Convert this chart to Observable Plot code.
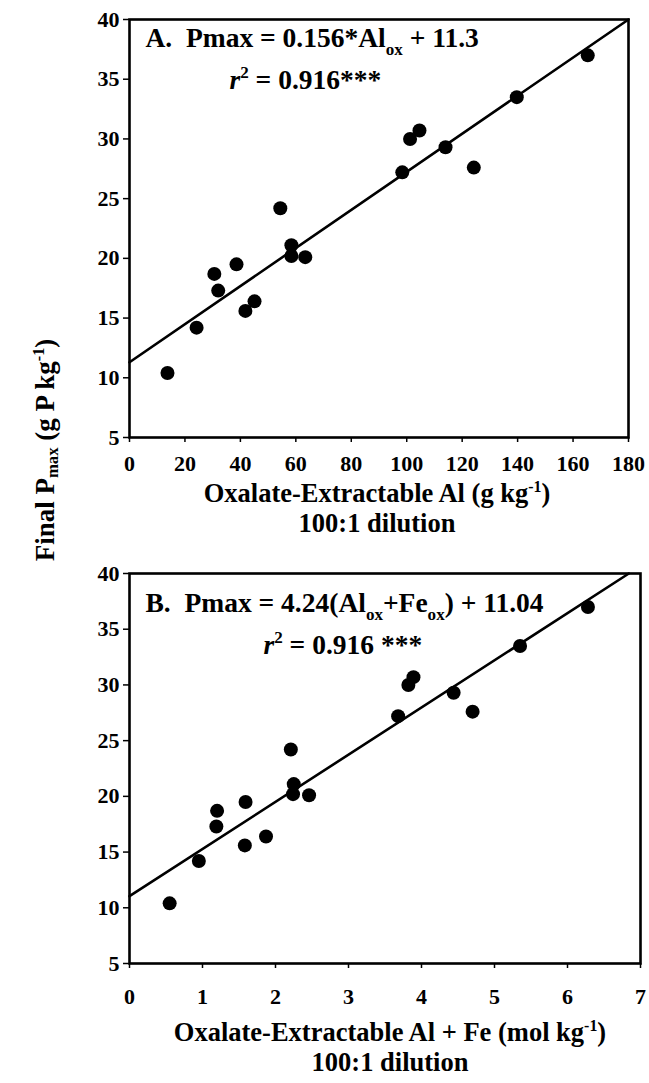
<!DOCTYPE html>
<html>
<head>
<meta charset="utf-8">
<script src="https://cdn.jsdelivr.net/npm/d3@7"></script>
<script src="https://cdn.jsdelivr.net/npm/@observablehq/plot@0.6"></script>
<style>
  html, body { margin: 0; padding: 0; background: #fff; }
  #wrap { position: relative; width: 649px; height: 1083px; overflow: hidden;
          font-family: "Liberation Serif", "DejaVu Serif", serif; font-weight: bold; color: #000; }
  .panel { position: absolute; left: 0; }
  .panel svg { overflow: visible; }
  .xt { position: absolute; width: 600px; text-align: center; font-size: 26.5px; line-height: 29.5px; white-space: nowrap; }
  .ylab { position: absolute; width: 320px; height: 30px; line-height: 30px; text-align: center;
          font-size: 27px; white-space: nowrap; transform: rotate(-90deg); }
  sup { font-size: 0.6em; vertical-align: 0.6em; line-height: 0; }
  sub { font-size: 0.62em; vertical-align: -0.25em; line-height: 0; }
</style>
</head>
<body>
<div id="wrap">
  <div id="panelA" class="panel" style="top:0px"></div>
  <div id="panelB" class="panel" style="top:554px"></div>
  <div class="xt" style="left:77px; top:479px;">Oxalate-Extractable Al (g kg<sup>-1</sup>)<br>100:1 dilution</div>
  <div class="xt" style="left:90px; top:1018px;">Oxalate-Extractable Al + Fe (mol kg<sup>-1</sup>)<br>100:1 dilution</div>
  <div class="ylab" style="left:-115px; top:435px;">Final P<sub>max</sub> (g P kg<sup>-1</sup>)</div>
</div>
<script>
// ---- data ----
const pmax   = [10.4, 14.2, 18.7, 17.3, 19.5, 15.6, 16.4, 24.2, 21.1, 20.2, 20.1, 27.2, 30.0, 30.7, 29.3, 27.6, 33.5, 37.0];
const alOx   = [13.7, 24.2, 30.6, 32.0, 38.6, 41.8, 45.1, 54.4, 58.4, 58.4, 63.4, 98.4, 101.2, 104.6, 114.0, 124.2, 139.7, 165.3];
const alFeOx = [0.55, 0.95, 1.20, 1.19, 1.59, 1.58, 1.87, 2.21, 2.25, 2.24, 2.46, 3.68, 3.82, 3.89, 4.44, 4.70, 5.35, 6.28];

// regression lines as drawn (end points)
const fitAx = [0, 180];
const fitAy = [11.3, 40];
const fitBx = [0, 6.84];
const fitBy = [11.04, 40];

const yTicks  = [5, 10, 15, 20, 25, 30, 35, 40];
const xTicksA = [0, 20, 40, 60, 80, 100, 120, 140, 160, 180];
const xTicksB = [0, 1, 2, 3, 4, 5, 6, 7];

const annA = ["A.  Pmax = 0.156*Al_{ox} + 11.3", "|r|^{2} = 0.916***"];
const annB = ["B.  Pmax = 4.24(Al_{ox}+Fe_{ox}) + 11.04", "|r|^{2} = 0.916 ***"];

const FONT = "'Liberation Serif', 'DejaVu Serif', serif";
const TICKFS = 22;
const ANNFS = 27.5;

function richify(svg) {
  const NS = "http://www.w3.org/2000/svg";
  svg.querySelectorAll("text").forEach(el => {
    const s = el.textContent;
    if (!/(_\{|\^\{|\|)/.test(s)) return;
    const fs = parseFloat(el.getAttribute("font-size")) || ANNFS;
    const parts = s.split(/(_\{[^}]*\}|\^\{[^}]*\}|\|[^|]*\|)/).filter(p => p !== "");
    while (el.firstChild) el.removeChild(el.firstChild);
    let shift = 0;
    for (const p of parts) {
      const t = document.createElementNS(NS, "tspan");
      let target = 0;
      if (p.startsWith("_{")) {
        t.textContent = p.slice(2, -1);
        t.setAttribute("font-size", fs * 0.62);
        target = fs * 0.28;
      } else if (p.startsWith("^{")) {
        t.textContent = p.slice(2, -1);
        t.setAttribute("font-size", fs * 0.62);
        target = -fs * 0.42;
      } else if (p.startsWith("|")) {
        t.textContent = p.slice(1, -1);
        t.setAttribute("font-style", "italic");
      } else {
        t.textContent = p;
      }
      const dy = target - shift;
      if (dy !== 0) t.setAttribute("dy", dy);
      shift = target;
      el.appendChild(t);
    }
  });
}

function panel({x, xTicks, xDomain, mr, height, mb, fitX, fitY, ann, ann2dx, tickPad, annDy}) {
  const pts = x.map((v, i) => ({x: v, y: pmax[i]}));
  const fit = fitX.map((v, i) => ({x: v, y: fitY[i]}));
  const svg = Plot.plot({
    width: 649, height, marginLeft: 129, marginRight: mr, marginTop: 19, marginBottom: mb,
    style: {fontFamily: FONT, fontWeight: "bold", fontSize: TICKFS + "px", color: "#000", background: "transparent", overflow: "visible"},
    x: {domain: xDomain},
    y: {domain: [5, 40]},
    marks: [
      Plot.axisX(xTicks, {tickSize: 5, tickPadding: tickPad, strokeWidth: 1.5, label: null, fontSize: TICKFS, fontWeight: "bold", fontFamily: FONT}),
      Plot.axisY(yTicks, {tickSize: 6, tickPadding: 4, strokeWidth: 1.5, label: null, fontSize: TICKFS, fontWeight: "bold", fontFamily: FONT}),
      Plot.line(fit, {x: "x", y: "y", stroke: "#000", strokeWidth: 2.6}),
      Plot.dot(pts, {x: "x", y: "y", r: 7, fill: "#000", stroke: "none"}),
      Plot.frame({stroke: "#000", strokeWidth: 2.6}),
      Plot.text([ann[0]], {frameAnchor: "top-left", dx: 16, dy: annDy[0], text: d => d, textAnchor: "start", lineAnchor: "middle", fontSize: ANNFS, fontWeight: "bold", fontFamily: FONT, fill: "#000"}),
      Plot.text([ann[1]], {frameAnchor: "top-left", dx: ann2dx, dy: annDy[1], text: d => d, textAnchor: "start", lineAnchor: "middle", fontSize: ANNFS, fontWeight: "bold", fontFamily: FONT, fill: "#000"})
    ]
  });
  richify(svg);
  return svg;
}

document.getElementById("panelA").appendChild(panel({
  x: alOx, xTicks: xTicksA, xDomain: [0, 180], mr: 21, height: 480, mb: 43,
  fitX: fitAx, fitY: fitAy, ann: annA, ann2dx: 100, tickPad: 13, annDy: [19, 61]
}));
document.getElementById("panelB").appendChild(panel({
  x: alFeOx, xTicks: xTicksB, xDomain: [0, 7], mr: 9, height: 454, mb: 45,
  fitX: fitBx, fitY: fitBy, ann: annB, ann2dx: 134, tickPad: 20, annDy: [30, 72]
}));
</script>
</body>
</html>
